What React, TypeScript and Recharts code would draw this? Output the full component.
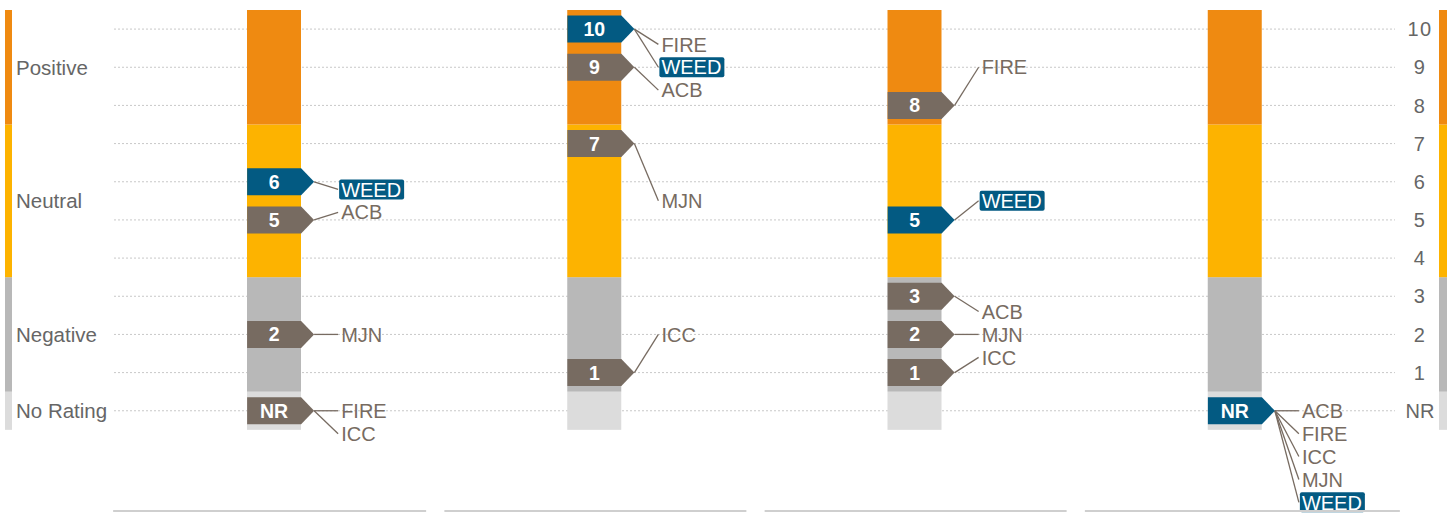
import React from 'react'
import {
  ComposedChart,
  Bar,
  Scatter,
  XAxis,
  YAxis,
  CartesianGrid,
  ReferenceLine,
} from 'recharts'

// four rating snapshots, 0 = no rating
const columns = [0, 1, 2, 3]
const companies = ['ACB', 'FIRE', 'ICC', 'MJN', 'WEED']
const acbRatings = [5, 9, 3, 0]
const fireRatings = [0, 10, 8, 0]
const iccRatings = [0, 1, 1, 0]
const mjnRatings = [2, 7, 2, 0]
const weedRatings = [6, 10, 5, 0]
const highlighted = 'WEED'

const bandNames = ['No Rating', 'Negative', 'Neutral', 'Positive']
const bandEdges = [-0.5, 0.5, 3.5, 7.5, 10.5]
const ratingTicks = [0, 1, 2, 3, 4, 5, 6, 7, 8, 9, 10]

const colors = {
  positive: '#EF8A11',
  neutral: '#FDB300',
  negative: '#B8B8B8',
  none: '#DCDCDC',
  marker: '#776B61',
  highlight: '#035A82',
  text: '#666666',
  grid: '#C8C8C8',
  base: '#CFCFCF',
}
const bandColors = [colors.none, colors.negative, colors.neutral, colors.positive]

const FONT = '"Liberation Sans", Arial, sans-serif'
const W = 1447
const H = 516
const LABEL_STEP = 0.6 // vertical gap between stacked labels, in rating units

const ratingsBy: Record<string, number[]> = {
  ACB: acbRatings,
  FIRE: fireRatings,
  ICC: iccRatings,
  MJN: mjnRatings,
  WEED: weedRatings,
}

const bandOf = (r: number) => bandNames.findIndex((_, i) => r < bandEdges[i + 1])
const bandCenter = (b: number) => (bandEdges[b] + bandEdges[b + 1]) / 2

const bandRows = columns.map((x) => {
  const row: Record<string, number> = { x, base: bandEdges[0] }
  bandNames.forEach((_, i) => {
    row['b' + i] = bandEdges[i + 1] - bandEdges[i]
  })
  return row
})

const markers = columns.flatMap((x) => {
  const ratings = Array.from(new Set(companies.map((c) => ratingsBy[c][x])))
  return ratings.map((r) => ({
    x,
    y: r,
    hot: ratingsBy[highlighted][x] === r,
  }))
})

const labels = columns.flatMap((x) => {
  const out: { x: number; rating: number; labelY: number; name: string }[] = []
  bandNames.forEach((_, b) => {
    const group = companies
      .filter((c) => bandOf(ratingsBy[c][x]) === b)
      .sort((a, c) => ratingsBy[c][x] - ratingsBy[a][x] || a.localeCompare(c))
    group.forEach((name, i) => {
      const labelY =
        b === 0 ? 0 - i * LABEL_STEP : bandCenter(b) + ((group.length - 1) / 2 - i) * LABEL_STEP
      out.push({ x, rating: ratingsBy[name][x], labelY, name })
    })
  })
  return out
})

// band segment of a column; the first and last column also paint the edge strips
// and the first one writes the band name on the left
function bandShape(color: string, name: string) {
  return (p: any) => {
    const { x, y, width, height, index } = p
    if (height == null || width == null) return <g />
    const h = Math.abs(height)
    const top = height < 0 ? y + height : y
    const last = index === columns.length - 1
    return (
      <g>
        <rect x={x} y={top} width={width} height={h} fill={color} />
        {index === 0 && (
          <g>
            <rect x={5} y={top} width={7} height={h} fill={color} />
            <text x={16} y={top + h / 2} dy="0.36em" fill={colors.text} fontFamily={FONT} fontSize={20.5}>
              {name}
            </text>
          </g>
        )}
        {last && <rect x={1439} y={top} width={8} height={h} fill={color} />}
      </g>
    )
  }
}

function Marker(p: any) {
  const { cx, cy, payload } = p
  if (cx == null || cy == null) return <g />
  const d = `M${cx - 27},${cy - 13.5}H${cx + 27}L${cx + 40},${cy}L${cx + 27},${cy + 13.5}H${cx - 27}Z`
  return (
    <g>
      <path d={d} fill={payload.hot ? colors.highlight : colors.marker} />
      <text
        x={cx}
        y={cy}
        dy="0.36em"
        textAnchor="middle"
        fill="#fff"
        fontFamily={FONT}
        fontWeight="bold"
        fontSize={19.5}
      >
        {payload.y === 0 ? 'NR' : payload.y}
      </text>
    </g>
  )
}

function leader(name: string) {
  return (p: any) => {
    const { x1, y1, x2, y2 } = p
    const hot = name === highlighted
    return (
      <g>
        <line x1={x1 + 40} y1={y1} x2={x2 + 64} y2={y2} stroke={colors.marker} strokeWidth={1.3} />
        {hot && <rect x={x2 + 65} y={y2 - 10} width={65} height={20} rx={2} fill={colors.highlight} />}
        <text
          x={x2 + 67}
          y={y2}
          dy="0.36em"
          fill={hot ? '#fff' : colors.marker}
          fontFamily={FONT}
          fontSize={20}
        >
          {name}
        </text>
      </g>
    )
  }
}

function RatingTick(p: any) {
  const { x, y, payload } = p
  return (
    <text
      x={x + 25}
      y={y}
      dy="0.36em"
      textAnchor="middle"
      fill={colors.text}
      fontFamily={FONT}
      fontSize={20}
      letterSpacing={payload.value === 0 ? 0 : 1.5}
    >
      {payload.value === 0 ? 'NR' : payload.value}
    </text>
  )
}

function BaseTick(p: any) {
  const { x, y, index } = p
  const x1 = index === 0 ? x - 161 : x - 150
  const x2 = index === columns.length - 1 ? x + 165 : x + 152
  return <line x1={x1} x2={x2} y1={y + 1} y2={y + 1} stroke={colors.base} strokeWidth={2} />
}

export default function App() {
  return (
    <div style={{ position: 'absolute', left: 0, top: 0, width: W, height: H }}>
      <ComposedChart
        width={W}
        height={H}
        data={bandRows}
        margin={{ top: 10, right: 0, bottom: 0, left: 114 }}
        barSize={54}
      >
        <CartesianGrid
          vertical={false}
          horizontalValues={ratingTicks}
          syncWithTicks={false}
          stroke={colors.grid}
          strokeDasharray="2 2"
        />
        <XAxis
          type="number"
          dataKey="x"
          domain={[-0.5, 3.5]}
          ticks={columns}
          interval={0}
          axisLine={false}
          tickLine={false}
          tickSize={0}
          tickMargin={0}
          height={6}
          tick={<BaseTick />}
        />
        <YAxis
          orientation="right"
          type="number"
          domain={[-2.6, 10.5]}
          ticks={ratingTicks}
          interval={0}
          width={52}
          axisLine={false}
          tickLine={false}
          tickSize={0}
          tickMargin={0}
          tick={<RatingTick />}
        />
        <Bar dataKey="base" stackId="s" fill="none" isAnimationActive={false} />
        {bandNames.map((n, i) => (
          <Bar
            key={n}
            dataKey={'b' + i}
            stackId="s"
            fill={bandColors[i]}
            shape={bandShape(bandColors[i], n)}
            isAnimationActive={false}
          />
        ))}
        {labels.map((l) => (
          <ReferenceLine
            key={l.x + l.name}
            segment={[
              { x: l.x, y: l.rating },
              { x: l.x, y: l.labelY },
            ]}
            ifOverflow="visible"
            shape={leader(l.name)}
          />
        ))}
        <Scatter data={markers} dataKey="y" shape={<Marker />} isAnimationActive={false} />
      </ComposedChart>
    </div>
  )
}
